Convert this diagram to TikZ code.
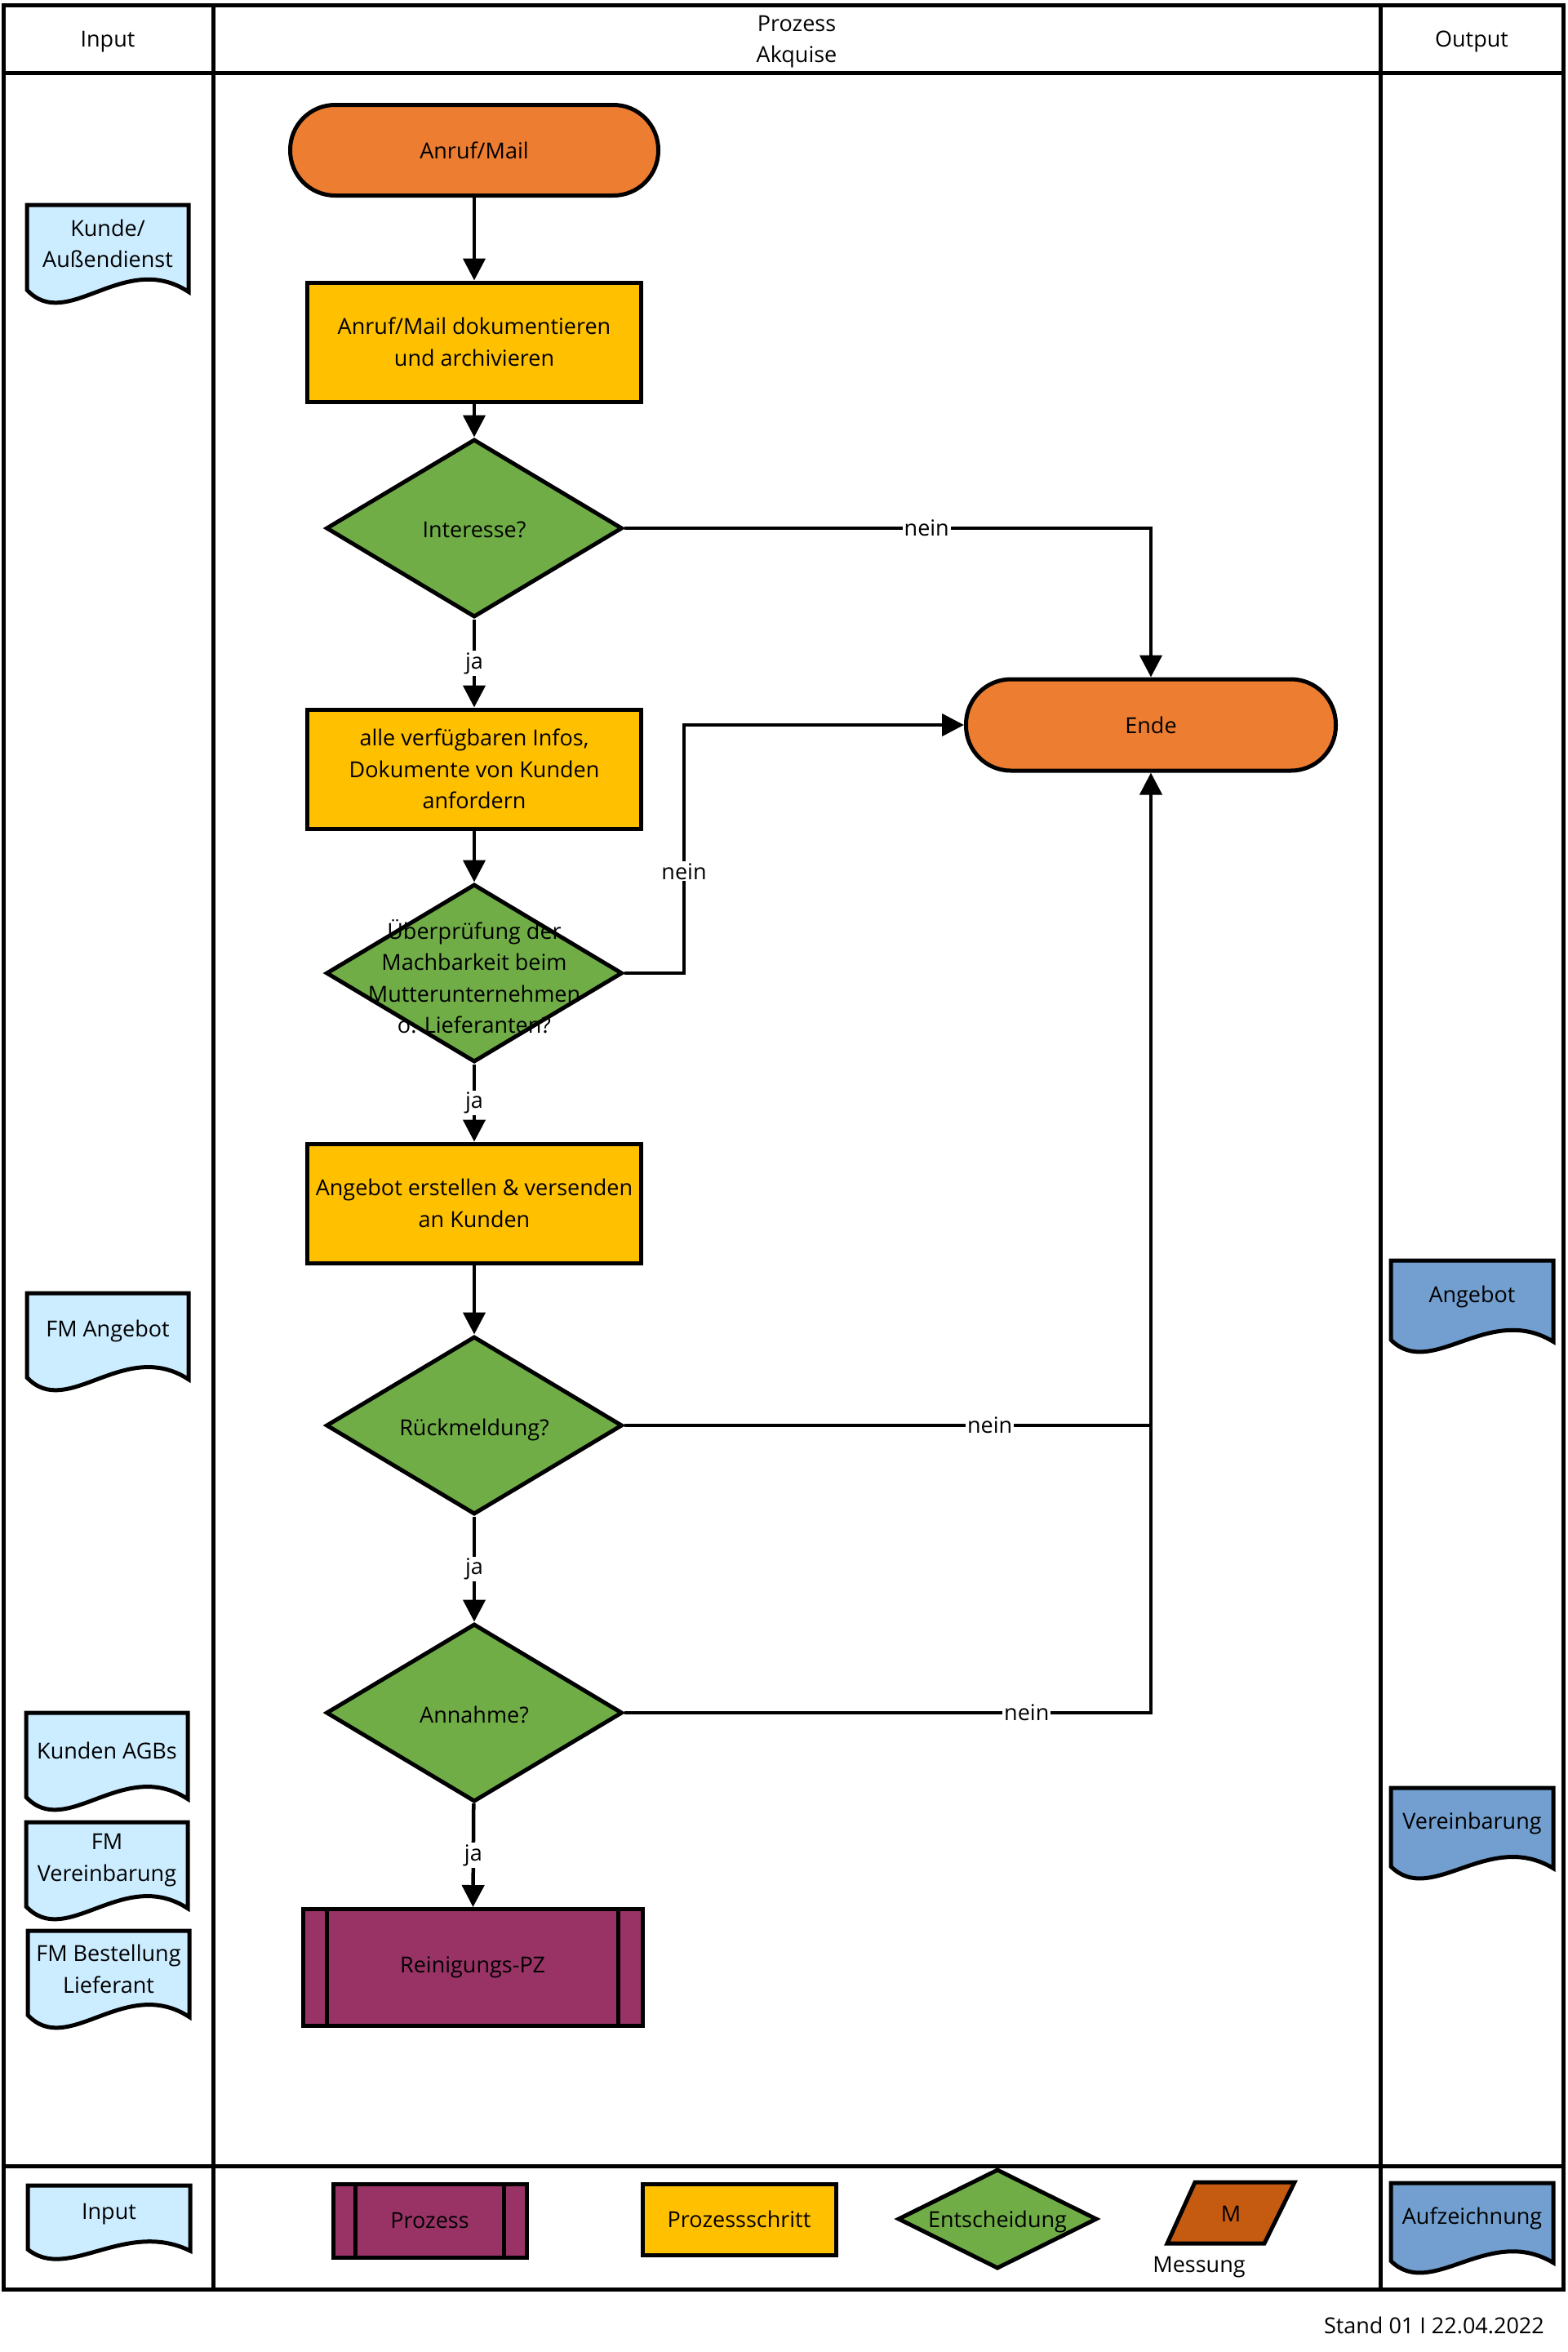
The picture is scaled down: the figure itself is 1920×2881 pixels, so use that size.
\documentclass[tikz,border=0pt]{standalone}
\usepackage{fontspec}
\setmainfont{Open Sans}
\usetikzlibrary{shapes.geometric,arrows.meta}
\definecolor{termC}{HTML}{ED7D31}
\definecolor{stepC}{HTML}{FFC000}
\definecolor{decC}{HTML}{70AD47}
\definecolor{procC}{HTML}{993366}
\definecolor{inC}{HTML}{CCECFF}
\definecolor{outC}{HTML}{729FCF}
\definecolor{measC}{HTML}{C55A11}
\tikzset{
  every node/.style={font=\fontsize{27}{38.5}\selectfont},
  frameline/.style={line width=5pt},
  shapeline/.style={line width=5pt, draw=black},
  terminal/.style={shapeline, fill=termC, rectangle, rounded corners=55pt, minimum width=451pt, minimum height=111pt},
  stepbox/.style={shapeline, fill=stepC, rectangle, minimum width=409pt, minimum height=146pt, align=center, inner sep=0pt},
  decision/.style={shapeline, fill=decC, diamond, minimum width=363pt, minimum height=218pt, inner sep=0pt},
  procbox/.style={shapeline, fill=procC, rectangle, minimum width=416pt, minimum height=143pt},
  txt/.style={align=center, inner sep=0pt},
  conn/.style={line width=4.5pt, -{Triangle[length=27pt,width=27pt]}},
  plain/.style={line width=4.5pt},
  lbl/.style={fill=white, inner sep=2pt},
}
\newcommand\docshape[7]{%
  \filldraw[shapeline, fill=#6]
    (#2,#3) -- ({#2+#4},#3) -- ({#2+#4},{#3+0.88*#5})
    .. controls ({#2+0.6*#4},{#3+0.45*#5}) and ({#2+0.25*#4},{#3+1.3*#5}) .. (#2,{#3+0.86*#5}) -- cycle;
  \node[txt] (#1) at ({#2+0.5*#4},{#3+0.39*#5}) {#7};
}
\begin{document}
\begin{tikzpicture}[x=1pt,y=-1pt]
\useasboundingbox (0,0) rectangle (1920,2881);
% frame
\draw[frameline] (4,6) rectangle (1915,2804);
\draw[frameline] (4,89.5) -- (1915,89.5);
\draw[frameline] (4,2653) -- (1915,2653);
\draw[frameline] (261,6) -- (261,2804);
\draw[frameline] (1691,6) -- (1691,2804);
% header
\node[txt] (hin) at (132,51) {Input};
\node[txt] (hpr) at (976,51) {Prozess\\Akquise};
\node[txt] (hout) at (1803,51) {Output};
% main flow
\node[terminal] (start) at (581,184) {Anruf/Mail};
\node[stepbox] (step1) at (581,419) {Anruf/Mail dokumentieren\\und archivieren};
\node[decision] (dec1) at (581,647) {};
\node[txt] (dec1t) at (581,649) {Interesse?};
\node[stepbox] (step2) at (581,942) {alle verfügbaren Infos,\\Dokumente von Kunden\\anfordern};
\node[decision] (dec2) at (581,1192) {};
\node[txt] (dec2t) at (581,1196) {Überprüfung der\\Machbarkeit beim\\Mutterunternehmen\\o. Lieferanten?};
\node[stepbox] (step3) at (581,1474) {Angebot erstellen \& versenden\\an Kunden};
\node[decision] (dec3) at (581,1746) {};
\node[txt] (dec3t) at (581,1751) {Rückmeldung?};
\node[decision] (dec4) at (581,2098) {};
\node[txt] (dec4t) at (581,2100) {Annahme?};
\node[procbox] (proc) at (579,2410) {Reinigungs-PZ};
\draw[line width=5pt] ([xshift=32pt]proc.north west) -- ([xshift=32pt]proc.south west);
\draw[line width=5pt] ([xshift=-32pt]proc.north east) -- ([xshift=-32pt]proc.south east);
\node[terminal, minimum width=453pt, minimum height=112pt] (ende) at (1410,888) {Ende};
\coordinate (knick) at (838,888);
% connectors
\draw[conn] (start) -- (step1);
\draw[conn] (step1) -- (dec1);
\draw[conn] (dec1) -- node[lbl]{ja} (step2);
\draw[conn] (dec1.east) -| node[lbl,pos=0.287]{nein} (ende.north);
\draw[conn] (step2) -- (dec2);
\draw[conn] (dec2.east) -- (dec2.east -| knick) -- node[lbl,pos=0.41]{nein} (knick) -- (ende.west);
\draw[conn] (dec2) -- node[lbl]{ja} (step3);
\draw[conn] (step3) -- (dec3);
\draw[conn] (dec3) -- node[lbl]{ja} (dec4);
\draw[conn] (dec3.east) -| node[lbl,pos=0.347]{nein} (ende.south);
\draw[plain] (dec4.east) -| node[lbl,pos=0.382]{nein} (dec3.east -| ende.south);
\draw[conn] (dec4) -- node[lbl]{ja} (proc);
% input documents
\docshape{in1}{33}{251}{198}{121}{inC}{Kunde/\\Außendienst}
\docshape{in2}{33}{1584}{198}{120}{inC}{FM Angebot}
\docshape{in3}{32}{2098}{198}{120}{inC}{Kunden AGBs}
\docshape{in4}{32}{2232}{198}{120}{inC}{FM\\Vereinbarung}
\docshape{in5}{34}{2365}{198}{120}{inC}{FM Bestellung\\Lieferant}
% output documents
\docshape{out1}{1704}{1544}{199}{113}{outC}{Angebot}
\docshape{out2}{1704}{2190}{199}{112}{outC}{Vereinbarung}
% legend
\docshape{lin}{34}{2677}{199}{91}{inC}{Input}
\node[procbox, minimum width=237pt, minimum height=90pt] (lproc) at (526.5,2720) {Prozess};
\draw[line width=5pt] ([xshift=30pt]lproc.north west) -- ([xshift=30pt]lproc.south west);
\draw[line width=5pt] ([xshift=-30pt]lproc.north east) -- ([xshift=-30pt]lproc.south east);
\node[stepbox, minimum width=237pt, minimum height=87pt] (lstep) at (905.5,2718.5) {Prozessschritt};
\node[decision, minimum width=244pt, minimum height=122pt] (ldec) at (1222,2718) {};
\node[txt] (ldect) at (1222,2721) {Entscheidung};
\filldraw[shapeline, fill=measC] (1464,2673) -- (1586,2673) -- (1549,2748) -- (1430,2748) -- cycle;
\node[txt] (lm) at (1508,2712) {M};
\node[txt] (lmess) at (1469,2777) {Messung};
\docshape{laufz}{1704}{2674}{199}{111}{outC}{Aufzeichnung}
\node[txt, anchor=east] (stand) at (1892,2848) {Stand 01 I 22.04.2022};
\end{tikzpicture}
\end{document}
